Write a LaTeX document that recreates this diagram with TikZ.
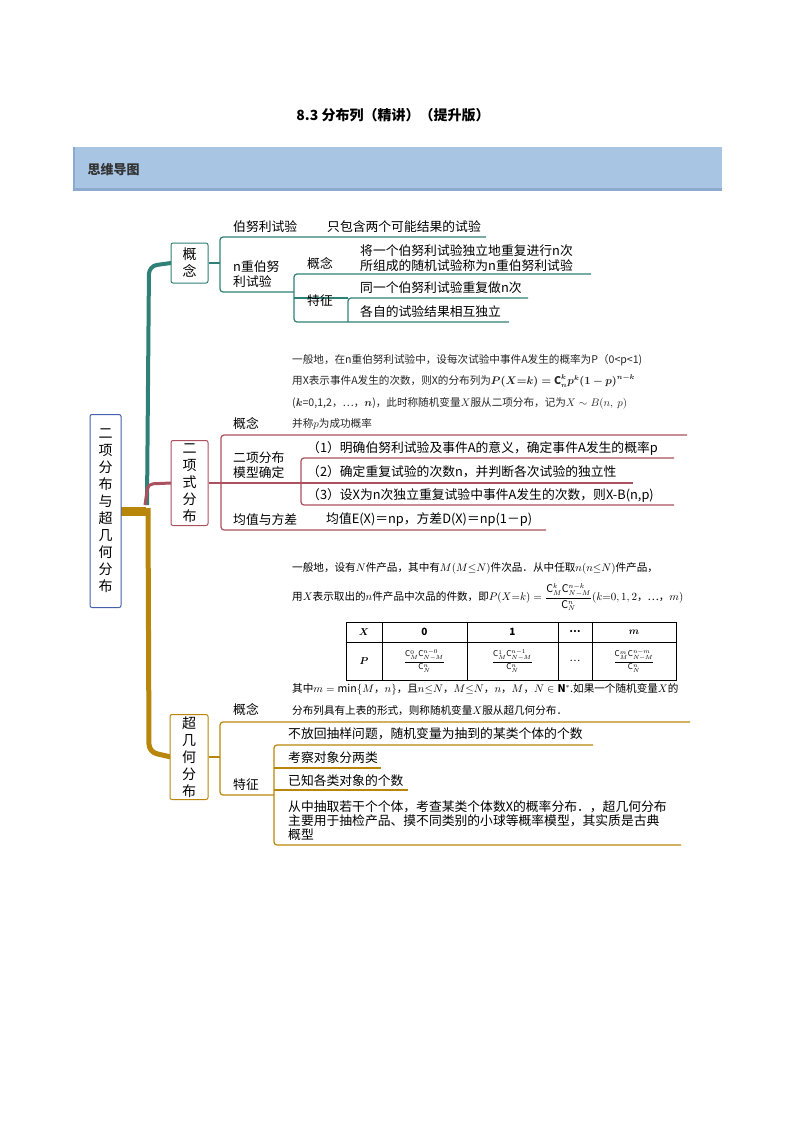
\documentclass[tikz,border=0pt]{standalone}
\usepackage{amsmath,amssymb,bm}
\usepackage{fontspec}
\setmainfont{Noto Sans CJK SC}
\definecolor{teal1}{RGB}{47,128,118}
\definecolor{pink1}{RGB}{170,80,95}
\definecolor{gold1}{RGB}{184,134,11}
\definecolor{blue1}{RGB}{70,95,170}
\definecolor{band}{RGB}{168,198,228}
\definecolor{bandd}{RGB}{140,170,205}
\tikzset{
 t/.style={anchor=west,inner sep=0pt,font=\fontsize{12.8}{15}\selectfont},
 s/.style={anchor=west,inner sep=0pt,font=\fontsize{10.6}{12}\selectfont,text=black!85},
 m/.style={anchor=west,inner sep=0pt,font=\fontsize{10.6}{13}\selectfont},
 cell/.style={inner sep=0pt,font=\fontsize{8}{10}\selectfont},
 vbox/.style={draw,rounded corners=2pt,line width=1pt,fill=white,align=center,inner sep=0pt,font=\fontsize{14}{17}\selectfont},
 br/.style={line width=1.2pt,rounded corners=3pt},
}
\begin{document}
\begin{tikzpicture}[x=1pt,y=-1pt]
\useasboundingbox (0,0) rectangle (794,1123);
% title
\node[font=\bfseries\fontsize{14}{16}\selectfont] (title) at (393,115) {8.3 分布列（精讲）（提升版）};
% banner
\fill[bandd] (73,147) rectangle (722,191);
\fill[band] (75,147) rectangle (722,188);
\node[anchor=west,font=\bfseries\fontsize{13}{15}\selectfont,text=black!80] (bantxt) at (84,170) {思维导图};
% trunk
\draw[gold1,line width=9pt] (121,511) -- (146,511);
\draw[gold1,line width=5pt,rounded corners=8pt] (148,508) -- (149,752) -- (171,757);
\draw[teal1,line width=4pt,rounded corners=8pt] (147,505) -- (149,266) -- (171,263);
\draw[pink1,line width=3pt,rounded corners=5pt] (145,505) -- (148,484) -- (171,483);
% root
\node[vbox,draw=blue1,minimum width=31pt,minimum height=193pt] (root) at (105.5,511) {二\\项\\分\\布\\与\\超\\几\\何\\分\\布};
% 概念 box
\node[vbox,draw=teal1,minimum width=37pt,minimum height=40pt] (b1) at (189.5,263) {概\\念};
\draw[teal1,br] (b1.east) -- (220,263);
\draw[teal1,br] (486,237) -- (220,237) -- (220,292) -- (294,292);
\draw[teal1,br] (591,274) -- (294,274) -- (294,322) -- (348,322) -- (509,322);
\draw[teal1,br] (528,298) -- (348,298) -- (348,322);
\draw[teal1,br] (294,298) -- (348,298);
\node[t] (a1) at (233,227) {伯努利试验};
\node[t] (a2) at (327,227) {只包含两个可能结果的试验};
\node[t,align=left] (a3) at (233,274) {n重伯努\\利试验};
\node[t] (a4) at (307,264) {概念};
\node[t,align=left] (a5) at (360,258) {将一个伯努利试验独立地重复进行n次\\所组成的随机试验称为n重伯努利试验};
\node[t] (a6) at (307,301) {特征};
\node[t] (a7) at (360,288) {同一个伯努利试验重复做n次};
\node[t] (a8) at (360,312) {各自的试验结果相互独立};
% 二项式分布
\node[vbox,draw=pink1,minimum width=37pt,minimum height=85pt] (b2) at (189.5,483) {二\\项\\式\\分\\布};
\draw[pink1,br] (b2.east) -- (221,483);
\draw[pink1,br] (687,435) -- (221,435) -- (221,530) -- (546,530);
\draw[pink1,br] (221,483) -- (633,483);
\draw[pink1,br] (674,458) -- (301,458) -- (301,505) -- (674,505);
\node[s] (p1) at (292,360) {一般地，在n重伯努利试验中，设每次试验中事件A发生的概率为P（0<p<1)};
\node[s] (p2) at (292,381) {用X表示事件A发生的次数，则X的分布列为$\bm{P(X{=}k)=\mathrm{C}_n^kp^k(1-p)^{n-k}}$};
\node[s] (p3) at (292,403) {($\bm{k}$=0,1,2，…，$\bm{n}$)，此时称随机变量$X$服从二项分布，记为$X\sim B(n,\ p)$};
\node[t] (c1) at (233,424) {概念};
\node[s] (c2) at (292,424) {并称$p$为成功概率};
\node[t,align=left] (c3) at (233,465) {二项分布\\模型确定};
\node[t] (c4) at (307,448) {（1）明确伯努利试验及事件A的意义，确定事件A发生的概率p};
\node[t] (c5) at (307,472) {（2）确定重复试验的次数n，并判断各次试验的独立性};
\node[t] (c6) at (307,495) {（3）设X为n次独立重复试验中事件A发生的次数，则X-B(n,p)};
\node[t] (c7) at (233,520) {均值与方差};
\node[t] (c8) at (326,520) {均值E(X)＝np，方差D(X)＝np(1－p)};
% 超几何 paragraph
\node[m] (h1) at (292,568) {一般地，设有$N$件产品，其中有$M(M{\le}N)$件次品．从中任取$n(n{\le}N)$件产品，};
\node[m] (h2) at (292,597) {用$X$表示取出的$n$件产品中次品的件数，即$P(X{=}k)=\dfrac{\mathrm{C}_M^k\mathrm{C}_{N-M}^{n-k}}{\mathrm{C}_N^n}(k{=}0,1,2，…，m)$};
\draw[line width=0.8pt] (346,622) rectangle (676,680) (346,642) -- (676,642);
\foreach \x in {382,467,558,592} \draw[line width=0.8pt] (\x,622) -- (\x,680);
\node[font=\fontsize{10}{12}\selectfont] (tx) at (364,632) {$\bm{X}$};
\node[font=\bfseries\fontsize{10}{12}\selectfont] (t0) at (424.5,632) {0};
\node[font=\bfseries\fontsize{10}{12}\selectfont] (t1) at (512.5,632) {1};
\node[font=\bfseries\fontsize{10}{12}\selectfont] (t2) at (575,632) {…};
\node[font=\bfseries\fontsize{10}{12}\selectfont] (t3) at (634,632) {$\bm{m}$};
\node[font=\fontsize{10}{12}\selectfont] (tp) at (364,661) {$\bm{P}$};
\node[cell] (q0) at (424.5,661) {$\dfrac{\mathrm{C}_M^0\mathrm{C}_{N-M}^{n-0}}{\mathrm{C}_N^n}$};
\node[cell] (q1) at (512.5,661) {$\dfrac{\mathrm{C}_M^1\mathrm{C}_{N-M}^{n-1}}{\mathrm{C}_N^n}$};
\node[font=\fontsize{10}{12}\selectfont] (q2) at (575,661) {…};
\node[cell] (q3) at (634,661) {$\dfrac{\mathrm{C}_M^m\mathrm{C}_{N-M}^{n-m}}{\mathrm{C}_N^n}$};
\node[m] (h3) at (292,689) {其中$m=\min\{M，n\}$，且$n{\le}N$，$M{\le}N$，$n$，$M$，$N\in\mathbf{N}^*$.如果一个随机变量$X$的};
\node[m] (h4) at (292,711) {分布列具有上表的形式，则称随机变量$X$服从超几何分布．};
% 超几何 box
\node[vbox,draw=gold1,minimum width=38pt,minimum height=85pt] (b3) at (189,757) {超\\几\\何\\分\\布};
\draw[gold1,br] (b3.east) -- (220,757);
\draw[gold1,br] (690,722) -- (220,722) -- (220,795) -- (274,795);
\draw[gold1,br] (593,745) -- (274,745) -- (274,845) -- (681,845);
\draw[gold1,br] (274,768) -- (381,768);
\draw[gold1,br] (274,790) -- (408,790);
\node[t] (d1) at (233,710) {概念};
\node[t] (d2) at (233,785) {特征};
\node[t] (d3) at (288,734) {不放回抽样问题，随机变量为抽到的某类个体的个数};
\node[t] (d4) at (288,758) {考察对象分两类};
\node[t] (d5) at (288,781) {已知各类对象的个数};
\node[t,align=left,font=\fontsize{12.8}{14}\selectfont] (d6) at (288,821) {从中抽取若干个个体，考查某类个体数X的概率分布．，超几何分布\\主要用于抽检产品、摸不同类别的小球等概率模型，其实质是古典\\概型};
\end{tikzpicture}
\end{document}
